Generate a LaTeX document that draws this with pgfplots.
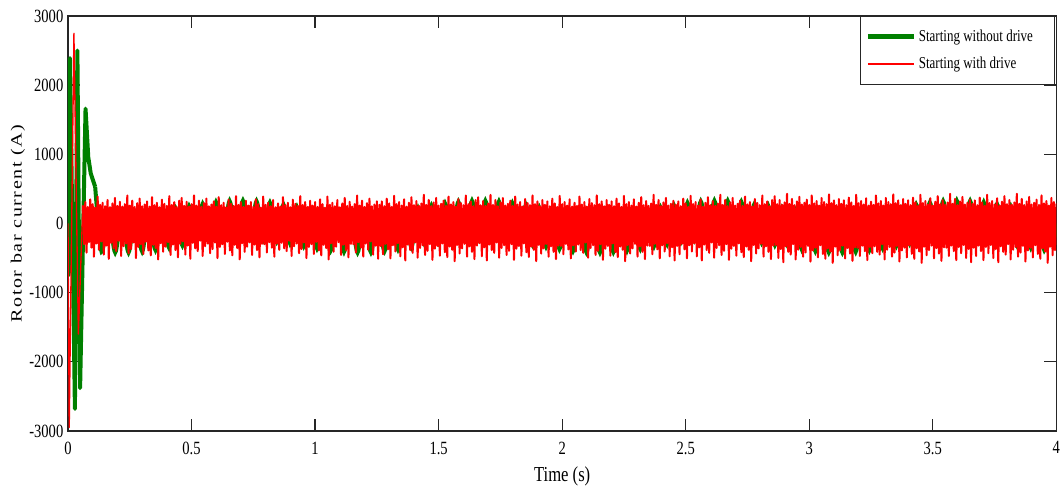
\documentclass[border=0pt]{standalone}
\usepackage{graphicx}
\usepackage{fontspec}
\setmainfont{Liberation Serif}[FakeStretch=0.78]
\newfontfamily\ylabfont{Liberation Serif}[LetterSpace=8]
\usepackage{pgfplots}
\pgfplotsset{compat=1.18}
\definecolor{mgreen}{RGB}{0,128,0}
\definecolor{axgray}{RGB}{38,38,38}
\begin{document}
\begin{tikzpicture}
\begin{axis}[
  scale only axis,
  width=741.25pt, height=311.25pt,
  xmin=0, xmax=4, ymin=-3000, ymax=3000,
  xtick={0,0.5,...,4}, ytick={-3000,-2000,...,3000},
  scaled ticks=false,
  /pgf/number format/1000 sep={},
  /pgf/number format/assume math mode=true,
  tick label style={font=\fontsize{14}{16}\selectfont},
  xticklabel style={yshift=-4.5pt, inner xsep=0pt},
  major tick length=9pt,
  tick style={line width=1pt, axgray},
  axis line style={line width=1.2pt, axgray},
  xlabel={Time (s)},
  ylabel={\scalebox{1}[0.78]{\ylabfont Rotor bar current (A)}},
  xlabel style={at={(axis description cs:0.5,-0.11)}, anchor=center, font=\fontsize{16}{18}\selectfont},
  ylabel style={at={(axis description cs:-0.0506,0.5)}, anchor=center, font=\fontsize{15}{17}\selectfont},
  legend style={at={(rel axis cs:1,1)}, anchor=north east, xshift=-1.2pt,
    draw=axgray, line width=0.8pt, font=\fontsize{12.5}{14}\selectfont,
    inner xsep=3.5pt, inner ysep=8pt, row sep=6.5pt},
  legend cell align=left,
]
% starting without drive: inrush transient
\addplot[mgreen, line width=3pt, line join=round,
  legend image code/.code={\draw[draw=mgreen, line width=3.6pt] (0pt,0pt) -- (34.5pt,0pt);}] coordinates {
(0,0) (0.002,-750) (0.008,2390) (0.028,-2680) (0.038,2500) (0.049,-2380)
(0.071,1660) (0.082,960) (0.092,725) (0.110,530)
};
\addlegendentry{\makebox[96pt][l]{Starting without drive}}
% starting without drive: steady state
\addplot[mgreen, line width=3pt, smooth, forget plot] coordinates {
(0.110,530)
(0.136,-410) (0.163,140) (0.191,-420) (0.218,130) (0.245,-420) (0.272,140)
(0.300,-405) (0.327,155) (0.354,-385) (0.381,180) (0.409,-350) (0.436,215)
(0.463,-317) (0.490,250) (0.518,-283) (0.545,283) (0.572,-252) (0.599,310)
(0.627,-231) (0.654,325) (0.681,-221) (0.708,330) (0.736,-223) (0.763,322)
(0.790,-237) (0.817,302) (0.845,-261) (0.872,274) (0.899,-292) (0.926,240)
(0.954,-328) (0.981,205) (1.008,-362) (1.035,173) (1.063,-391) (1.090,148)
(1.117,-411) (1.144,133) (1.172,-420) (1.199,131) (1.226,-416) (1.253,140)
(1.281,-401) (1.308,160) (1.335,-375) (1.362,190) (1.390,-342) (1.417,224)
(1.444,-308) (1.471,259) (1.499,-275) (1.526,291) (1.553,-246) (1.580,314)
(1.608,-227) (1.635,328) (1.662,-220) (1.689,329) (1.717,-225) (1.744,318)
(1.771,-242) (1.798,296) (1.826,-268) (1.853,266) (1.880,-301) (1.907,232)
(1.935,-337) (1.962,196) (1.989,-370) (2.016,166) (2.044,-397) (2.071,143)
(2.098,-414) (2.125,131) (2.153,-420) (2.180,132) (2.207,-413) (2.234,144)
(2.262,-395) (2.289,168) (2.316,-368) (2.343,198) (2.371,-334) (2.398,233)
(2.425,-299) (2.452,267) (2.480,-267) (2.507,298) (2.534,-240) (2.561,319)
(2.589,-224) (2.616,329) (2.643,-220) (2.670,327) (2.698,-228) (2.725,313)
(2.752,-248) (2.779,289) (2.807,-277) (2.834,257) (2.861,-311) (2.888,222)
(2.916,-346) (2.943,188) (2.970,-377) (2.997,159) (3.025,-402) (3.052,139)
(3.079,-417) (3.106,130) (3.134,-419) (3.161,134) (3.188,-410) (3.215,149)
(3.243,-388) (3.270,176) (3.297,-360) (3.324,207) (3.352,-325) (3.379,242)
(3.406,-291) (3.433,275) (3.461,-258) (3.488,304) (3.515,-235) (3.542,323)
(3.570,-222) (3.597,330) (3.624,-221) (3.651,325) (3.679,-233) (3.706,308)
(3.733,-254) (3.760,281) (3.788,-285) (3.815,248) (3.842,-320) (3.869,213)
(3.897,-354) (3.924,180) (3.951,-384) (3.978,153) (4.000,-200)
};
% starting with drive: first cycles
\addplot[red, line width=1pt, line join=round, forget plot] coordinates {
(0,0) (0.005,-2950) (0.024,2750) (0.042,-1600) (0.060,260)
};
% starting with drive: switching ripple, one sample every 5 ms from t = 0.06 s
\addplot[red, line width=1.5pt, line join=round,
  legend image code/.code={\draw[draw=red, line width=1.1pt] (0pt,0pt) -- (34.5pt,0pt);}]
  table[header=false, row sep=\\, x expr=\coordindex*0.005+0.06, y index=0] {
260\\-300\\310\\-420\\240\\-270\\350\\-350\\280\\-480\\230\\-290\\390\\-380\\270\\-260\\300\\-450\\250\\-320\\
340\\-510\\235\\-280\\290\\-360\\370\\-400\\255\\-250\\315\\-470\\245\\-330\\280\\-290\\405\\-430\\260\\-370\\
330\\-275\\240\\-500\\295\\-340\\360\\-300\\250\\-440\\275\\-265\\320\\-390\\245\\-460\\380\\-310\\265\\-355\\
300\\-520\\235\\-285\\345\\-410\\285\\-335\\255\\-270\\395\\-455\\270\\-305\\310\\-385\\240\\-490\\330\\-295\\
370\\-260\\255\\-450\\315\\-320\\245\\-510\\280\\-280\\405\\-360\\260\\-400\\330\\-250\\240\\-470\\295\\-330\\
360\\-290\\250\\-430\\275\\-370\\320\\-275\\245\\-500\\380\\-340\\265\\-300\\300\\-440\\235\\-265\\345\\-390\\
285\\-460\\255\\-310\\395\\-355\\270\\-520\\310\\-285\\240\\-410\\330\\-335\\260\\-270\\310\\-455\\240\\-305\\
350\\-385\\280\\-490\\230\\-295\\390\\-300\\270\\-420\\300\\-270\\250\\-350\\340\\-480\\235\\-290\\290\\-380\\
245\\-280\\380\\-360\\265\\-400\\300\\-250\\235\\-470\\345\\-330\\285\\-290\\255\\-430\\395\\-370\\270\\-275\\
310\\-500\\240\\-340\\330\\-300\\260\\-440\\310\\-265\\240\\-390\\350\\-460\\280\\-310\\230\\-355\\390\\-520\\
270\\-285\\300\\-410\\250\\-335\\340\\-270\\235\\-455\\290\\-305\\370\\-385\\255\\-490\\315\\-295\\245\\-300\\
280\\-420\\405\\-270\\260\\-350\\330\\-480\\240\\-290\\295\\-380\\360\\-260\\250\\-450\\275\\-320\\320\\-510\\
270\\-325\\320\\-445\\250\\-295\\360\\-375\\290\\-505\\240\\-315\\400\\-405\\280\\-285\\310\\-475\\260\\-345\\
350\\-535\\245\\-305\\300\\-385\\380\\-425\\265\\-275\\325\\-495\\255\\-355\\290\\-315\\415\\-455\\270\\-395\\
340\\-300\\250\\-525\\305\\-365\\370\\-325\\260\\-465\\285\\-290\\330\\-415\\255\\-485\\390\\-335\\275\\-380\\
310\\-545\\245\\-310\\355\\-435\\295\\-360\\265\\-295\\405\\-480\\280\\-330\\320\\-410\\250\\-515\\340\\-320\\
380\\-285\\265\\-475\\325\\-345\\255\\-535\\290\\-305\\415\\-385\\270\\-425\\340\\-275\\250\\-495\\305\\-355\\
370\\-315\\260\\-455\\285\\-395\\330\\-300\\255\\-525\\390\\-365\\275\\-325\\310\\-465\\245\\-290\\355\\-415\\
295\\-485\\265\\-335\\405\\-380\\280\\-545\\320\\-310\\250\\-435\\340\\-360\\270\\-295\\320\\-480\\250\\-330\\
360\\-410\\290\\-515\\240\\-320\\400\\-325\\280\\-445\\310\\-295\\260\\-375\\350\\-505\\245\\-315\\300\\-405\\
255\\-305\\390\\-385\\275\\-425\\310\\-275\\245\\-495\\355\\-355\\295\\-315\\265\\-455\\405\\-395\\280\\-300\\
320\\-525\\250\\-365\\340\\-325\\270\\-465\\320\\-290\\250\\-415\\360\\-485\\290\\-335\\240\\-380\\400\\-545\\
280\\-310\\310\\-435\\260\\-360\\350\\-295\\245\\-480\\300\\-330\\380\\-410\\265\\-515\\325\\-320\\255\\-325\\
290\\-445\\415\\-295\\270\\-375\\340\\-505\\250\\-315\\305\\-405\\370\\-285\\260\\-475\\285\\-345\\330\\-535\\
270\\-325\\320\\-445\\250\\-295\\360\\-375\\290\\-505\\240\\-315\\400\\-405\\280\\-285\\310\\-475\\260\\-345\\
350\\-535\\245\\-305\\300\\-385\\380\\-425\\265\\-275\\325\\-495\\255\\-355\\290\\-315\\415\\-455\\270\\-395\\
340\\-300\\250\\-525\\305\\-365\\370\\-325\\260\\-465\\285\\-290\\330\\-415\\255\\-485\\390\\-335\\275\\-380\\
310\\-545\\245\\-310\\355\\-435\\295\\-360\\265\\-295\\405\\-480\\280\\-330\\320\\-410\\250\\-515\\340\\-320\\
395\\-310\\280\\-500\\340\\-370\\270\\-560\\305\\-330\\430\\-410\\285\\-450\\355\\-300\\265\\-520\\320\\-380\\
385\\-340\\275\\-480\\300\\-420\\345\\-325\\270\\-550\\405\\-390\\290\\-350\\325\\-490\\260\\-315\\370\\-440\\
310\\-510\\280\\-360\\420\\-405\\295\\-570\\335\\-335\\265\\-460\\355\\-385\\285\\-320\\335\\-505\\265\\-355\\
375\\-435\\305\\-540\\255\\-345\\415\\-350\\295\\-470\\325\\-320\\275\\-400\\365\\-530\\260\\-340\\315\\-430\\
270\\-330\\405\\-410\\290\\-450\\325\\-300\\260\\-520\\370\\-380\\310\\-340\\280\\-480\\420\\-420\\295\\-325\\
335\\-550\\265\\-390\\355\\-350\\285\\-490\\335\\-315\\265\\-440\\375\\-510\\305\\-360\\255\\-405\\415\\-570\\
295\\-335\\325\\-460\\275\\-385\\365\\-320\\260\\-505\\315\\-355\\395\\-435\\280\\-540\\340\\-345\\270\\-350\\
305\\-470\\430\\-320\\285\\-400\\355\\-530\\265\\-340\\320\\-430\\385\\-310\\275\\-500\\300\\-370\\345\\-560\\
285\\-350\\335\\-470\\265\\-320\\375\\-400\\305\\-530\\255\\-340\\415\\-430\\295\\-310\\325\\-500\\275\\-370\\
365\\-560\\260\\-330\\315\\-410\\395\\-450\\280\\-300\\340\\-520\\270\\-380\\305\\-340\\430\\-480\\285\\-420\\
355\\-325\\265\\-550\\320\\-390\\385\\-350\\275\\-490\\300\\-315\\345\\-440\\270\\-510\\405\\-360\\290\\-405\\
325\\-570\\260\\-335\\370\\-460\\310\\-385\\280\\-320\\420\\-505\\295\\-355\\335\\-435\\265\\-540\\355\\-345\\
};
\addlegendentry{Starting with drive}
\end{axis}
\path ([shift={(-51pt,-43.5pt)}]current axis.south west) rectangle ([shift={(2.75pt,12pt)}]current axis.north east);
\end{tikzpicture}
\end{document}
